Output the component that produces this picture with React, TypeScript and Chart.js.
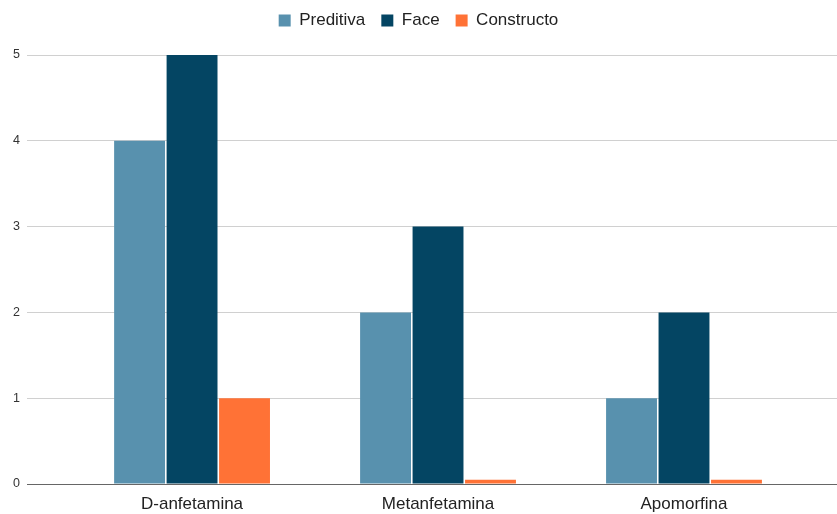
import React, { useEffect, useRef } from "react";
import { Chart, registerables } from "chart.js";

Chart.register(...registerables);

// Drug categories and validity scores per model type
const categories = ["D-anfetamina", "Metanfetamina", "Apomorfina"];
const preditiva = [4, 2, 1];
const face = [5, 3, 2];
const constructo = [1, 0.05, 0.05];
const yTicks = [0, 1, 2, 3, 4, 5];

const FONT = "'Liberation Sans', Arial, sans-serif";

// Reserve a fixed band at the top for the legend and lift its items slightly
const legendBand = {
  id: "legendBand",
  afterInit(chart: any) {
    const legend = chart.legend;
    if (!legend) return;
    const orig = legend.fit;
    legend.fit = function (this: any) {
      orig.call(this);
      this.height = 55;
    };
  },
  afterLayout(chart: any) {
    if (chart.legend) chart.legend.top = -4;
  },
};

export default function App() {
  const canvasRef = useRef<HTMLCanvasElement | null>(null);

  useEffect(() => {
    document.body.style.margin = "0";
    const canvas = canvasRef.current;
    if (!canvas) return;

    const toPoints = (vals: number[]) => vals.map((v, i) => ({ x: i, y: v }));

    const chart = new Chart(canvas, {
      type: "bar",
      data: {
        datasets: [
          { label: "Preditiva", data: toPoints(preditiva), backgroundColor: "#5891ae" },
          { label: "Face", data: toPoints(face), backgroundColor: "#044563" },
          { label: "Constructo", data: toPoints(constructo), backgroundColor: "#ff7236" },
        ],
      },
      plugins: [legendBand],
      options: {
        animation: false,
        responsive: false,
        maintainAspectRatio: false,
        layout: { padding: 0 },
        datasets: {
          bar: { categoryPercentage: 0.64, barPercentage: 0.97 },
        },
        plugins: {
          tooltip: { enabled: false },
          legend: {
            position: "top",
            align: "center",
            labels: {
              boxWidth: 12,
              boxHeight: 12,
              padding: 16,
              color: "#222",
              font: { family: FONT, size: 17 },
            },
          },
        },
        scales: {
          x: {
            type: "linear",
            offset: false,
            min: -0.671,
            max: 2.622,
            grid: { display: false },
            border: { display: false },
            afterBuildTicks: (scale: any) => {
              scale.ticks = categories.map((_, i) => ({ value: i }));
            },
            afterFit: (scale: any) => {
              scale.height = 30;
            },
            ticks: {
              autoSkip: false,
              maxRotation: 0,
              padding: 2,
              color: "#222",
              font: { family: FONT, size: 17 },
              callback: (v: any) => categories[Number(v)] ?? "",
            },
          },
          y: {
            min: 0,
            max: 5,
            afterBuildTicks: (scale: any) => {
              scale.ticks = yTicks.map((v) => ({ value: v }));
            },
            afterFit: (scale: any) => {
              scale.width = 27;
            },
            border: { display: false },
            grid: {
              drawTicks: false,
              color: (ctx: any) => (ctx.tick && ctx.tick.value === 0 ? "#666" : "#d0d0d0"),
              lineWidth: 1,
            },
            ticks: {
              padding: 7,
              color: "#333",
              font: { family: FONT, size: 12.5 },
            },
          },
        },
      },
    });

    return () => chart.destroy();
  }, []);

  return (
    <div style={{ position: "absolute", left: 0, top: 0, width: 837, height: 514 }}>
      <canvas ref={canvasRef} width={837} height={514} />
    </div>
  );
}
